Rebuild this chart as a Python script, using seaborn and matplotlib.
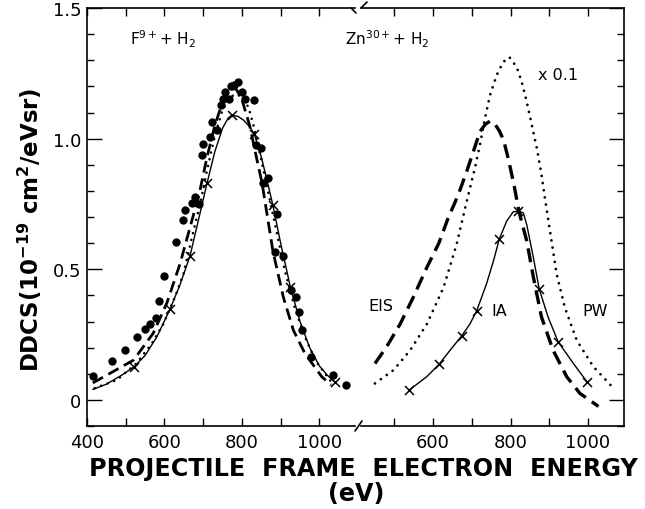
import matplotlib
matplotlib.use("Agg")
import matplotlib.pyplot as plt
import seaborn as sns
from matplotlib.ticker import FixedLocator, FixedFormatter, MultipleLocator
from matplotlib.lines import Line2D

# ---------------- F9+ + H2 ----------------
f_exp_e = [416, 465, 497, 529, 551, 563, 577, 587, 600, 630, 647, 654, 670, 678, 690,
           697, 700, 718, 722, 735, 745, 750, 756, 766, 771, 779, 789, 801, 808, 831,
           836, 848, 854, 868, 886, 891, 907, 926, 939, 948, 956, 979, 1036, 1068]
f_exp_y = [0.09, 0.15, 0.19, 0.24, 0.27, 0.29, 0.315, 0.377, 0.473, 0.603, 0.69, 0.726, 0.752, 0.776, 0.748,
           0.936, 0.98, 1.006, 1.062, 1.034, 1.128, 1.15, 1.178, 1.153, 1.2, 1.206, 1.218, 1.18, 1.153, 1.146,
           0.975, 0.963, 0.83, 0.848, 0.565, 0.712, 0.549, 0.422, 0.393, 0.338, 0.266, 0.165, 0.095, 0.057]

f_eis_e = [415, 467, 520, 571, 606, 640, 666, 690, 710, 730, 750, 770, 785, 800, 820,
           838, 852, 866, 880, 907, 933, 963, 1006, 1030]
f_eis_y = [0.065, 0.108, 0.152, 0.255, 0.37, 0.52, 0.66, 0.79, 0.93, 1.05, 1.14, 1.19, 1.19, 1.15, 1.05,
           0.925, 0.83, 0.70, 0.57, 0.393, 0.266, 0.177, 0.089, 0.057]

f_pw_e = [420, 477, 528, 567, 597, 627, 649, 679, 692, 710, 730, 750, 770, 785, 800,
          817, 830, 850, 870, 890, 910, 935, 960, 990, 1030]
f_pw_y = [0.045, 0.076, 0.14, 0.215, 0.29, 0.393, 0.482, 0.672, 0.748, 0.88, 1.01, 1.11, 1.16, 1.17, 1.16,
          1.12, 1.05, 0.92, 0.78, 0.64, 0.50, 0.36, 0.25, 0.15, 0.07]

f_ia_e = [415, 450, 490, 522, 550, 580, 614, 640, 666, 688, 710, 730, 750, 765, 775,
          790, 805, 820, 832, 850, 865, 880, 900, 925, 950, 975, 1000, 1020, 1040]
f_ia_y = [0.04, 0.06, 0.095, 0.127, 0.17, 0.24, 0.346, 0.44, 0.551, 0.69, 0.83, 0.95, 1.04, 1.08, 1.09,
          1.085, 1.07, 1.045, 1.018, 0.93, 0.84, 0.745, 0.60, 0.433, 0.30, 0.20, 0.13, 0.095, 0.068]
f_ia_mark_e = [522, 614, 666, 710, 775, 832, 880, 925, 1040]
f_ia_mark_y = [0.127, 0.346, 0.551, 0.83, 1.09, 1.018, 0.745, 0.433, 0.068]

# ---------------- Zn30+ + H2 ----------------
z_eis_e = [450, 480, 515, 549, 584, 615, 640, 655, 670, 687, 704, 721, 735, 747, 760,
           771, 782, 794, 809, 822, 842, 859, 880, 910, 945, 979, 1027]
z_eis_y = [0.139, 0.203, 0.29, 0.393, 0.507, 0.60, 0.70, 0.75, 0.805, 0.875, 0.95, 1.027, 1.055, 1.067, 1.055,
           1.03, 0.995, 0.925, 0.823, 0.72, 0.608, 0.47, 0.317, 0.19, 0.089, 0.025, -0.025]

z_pw_e = [450, 498, 541, 584, 627, 661, 687, 708, 721, 734, 747, 764, 781, 797, 816,
          829, 842, 855, 868, 880, 889, 902, 919, 940, 971, 1014, 1070]
z_pw_y = [0.063, 0.114, 0.19, 0.29, 0.43, 0.596, 0.76, 0.887, 0.976, 1.077, 1.166, 1.242, 1.293, 1.312, 1.274,
          1.217, 1.14, 1.052, 0.963, 0.862, 0.77, 0.646, 0.482, 0.355, 0.228, 0.127, 0.038]

z_ia_e = [539, 560, 584, 616, 644, 674, 695, 713, 738, 756, 771, 790, 807, 820, 833,
          842, 859, 874, 897, 923, 962, 997]
z_ia_y = [0.038, 0.062, 0.089, 0.137, 0.19, 0.245, 0.29, 0.342, 0.444, 0.532, 0.615, 0.684, 0.72, 0.722, 0.716,
          0.67, 0.545, 0.425, 0.317, 0.222, 0.14, 0.07]
z_ia_mark_e = [539, 616, 674, 713, 771, 820, 874, 923, 997]
z_ia_mark_y = [0.038, 0.137, 0.245, 0.342, 0.615, 0.722, 0.425, 0.222, 0.07]

y_ticks = [0, 0.5, 1.0, 1.5]
y_tick_labels = ["0", "0.5", "1.0", "1.5"]
left_xticks = [400, 600, 800, 1000]
right_xticks = [600, 800, 1000]

sns.set_style("ticks", {"axes.edgecolor": "black", "xtick.color": "black",
                        "ytick.color": "black", "text.color": "black",
                        "axes.labelcolor": "black"})
plt.rcParams["font.family"] = ["DejaVu Sans"]
plt.rcParams["mathtext.default"] = "regular"
plt.rcParams["axes.linewidth"] = 1.2

W, H = 645, 510
fig = plt.figure(figsize=(W / 100, H / 100), dpi=100)


def fx(p):
    return p / W


def fy(p):
    return 1 - p / H


top, bot = 9, 427
axL = fig.add_axes([fx(87), fy(bot), fx(355) - fx(87), fy(top) - fy(bot)])
axR = fig.add_axes([fx(361), fy(bot), fx(624) - fx(361), fy(top) - fy(bot)])


def dashed(ax, e, y, lw):
    sns.lineplot(x=e, y=y, ax=ax, color="black", sort=False, estimator=None,
                 linewidth=lw, linestyle=(0, (4.2, 2.2)), dash_capstyle="butt")


def dotted(ax, e, y, lw):
    sns.lineplot(x=e, y=y, ax=ax, color="black", sort=False, estimator=None,
                 linewidth=lw, linestyle=(0, (0.01, 2.6)), dash_capstyle="round")


def solid(ax, e, y, me, my):
    sns.lineplot(x=e, y=y, ax=ax, color="black", sort=False, estimator=None,
                 linewidth=1.0)
    sns.scatterplot(x=me, y=my, ax=ax, color="black", marker="x", s=42,
                    linewidth=1.1, zorder=4)


# left panel
dashed(axL, f_eis_e, f_eis_y, 2.0)
dotted(axL, f_pw_e, f_pw_y, 1.9)
solid(axL, f_ia_e, f_ia_y, f_ia_mark_e, f_ia_mark_y)
sns.scatterplot(x=f_exp_e, y=f_exp_y, ax=axL, color="black", marker="o", s=36,
                linewidth=0, zorder=5)

# right panel
dashed(axR, z_eis_e, z_eis_y, 2.4)
dotted(axR, z_pw_e, z_pw_y, 2.0)
solid(axR, z_ia_e, z_ia_y, z_ia_mark_e, z_ia_mark_y)

axL.set_xlim(400, 1092)
axR.set_xlim(414, 1093)
for ax, ticks in ((axL, left_xticks), (axR, right_xticks)):
    ax.set_ylim(-0.1, 1.5)
    ax.set_xlabel("")
    ax.set_ylabel("")
    ax.xaxis.set_major_locator(FixedLocator(ticks))
    ax.xaxis.set_major_formatter(FixedFormatter([str(t) for t in ticks]))
    ax.xaxis.set_minor_locator(FixedLocator([500, 700, 900]))
    ax.yaxis.set_major_locator(FixedLocator(y_ticks))
    ax.yaxis.set_minor_locator(MultipleLocator(0.1))
    ax.tick_params(axis="x", which="both", direction="in", length=5.5, width=1.0,
                   top=True, bottom=True, labelsize=13, pad=5)
    ax.tick_params(axis="y", which="major", direction="in", length=11, width=1.0,
                   labelsize=13, pad=4)
    ax.tick_params(axis="y", which="minor", direction="in", length=5, width=1.0)
    for s in ax.spines.values():
        s.set_linewidth(1.2)
        s.set_color("black")

axL.yaxis.set_ticks_position("left")
axL.yaxis.set_major_formatter(FixedFormatter(y_tick_labels))
axL.spines["right"].set_visible(False)
axR.yaxis.set_ticks_position("right")
axR.tick_params(axis="y", which="both", labelright=False, labelleft=False)
axR.spines["left"].set_visible(False)

# axis break marks
for xs, ys in (([351, 356], [9, 14]), ([361, 367], [9, 3]), ([355, 362], [432, 422])):
    fig.add_artist(Line2D([fx(x) for x in xs], [fy(y) for y in ys],
                          color="black", linewidth=1.2))

# annotations
axL.text(511, 1.385, r"F$^{9+}$+ H$_2$", fontsize=11, ha="left", va="center")
axR.text(373, 1.385, r"Zn$^{30+}$+ H$_2$", fontsize=11, ha="left", va="center",
         clip_on=False)
axR.text(871, 1.246, "x 0.1", fontsize=11.5, ha="left", va="center")
axR.text(466, 0.36, "EIS", fontsize=11.5, ha="center", va="center")
axR.text(770, 0.341, "IA", fontsize=11.5, ha="center", va="center")
axR.text(1018, 0.341, "PW", fontsize=11.5, ha="center", va="center")

fig.text(fx(30), fy(230), r"DDCS(10$^{\mathbf{-19}}$ cm$^{\mathbf{2}}$/eVsr)",
         rotation=90, fontsize=16.5, fontweight="bold", ha="center", va="center")
fig.text(fx(363), fy(469), "PROJECTILE  FRAME  ELECTRON  ENERGY",
         fontsize=17.2, fontweight="bold", ha="center", va="center")
fig.text(fx(356), fy(494), "(eV)", fontsize=17.2, fontweight="bold",
         ha="center", va="center")

fig.savefig("out.png", dpi=100)
